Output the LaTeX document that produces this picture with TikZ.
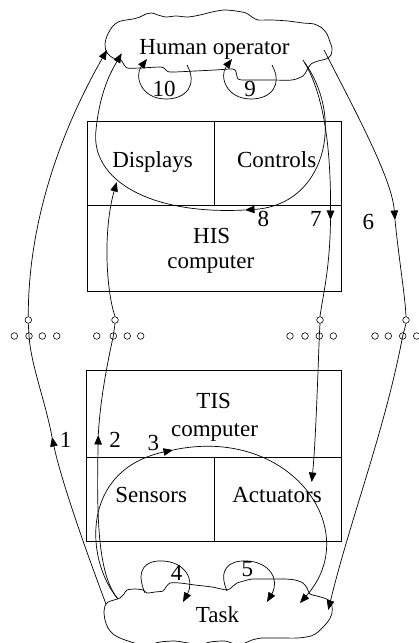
\documentclass[tikz,border=0pt]{standalone}
\usepackage{fontspec}
\setmainfont{Liberation Serif}
\usetikzlibrary{arrows.meta}
\begin{document}
\begin{tikzpicture}[x=1pt,y=-1pt, line width=0.7pt,
  lbl/.style={font=\fontsize{23}{27}\selectfont, anchor=base, inner sep=0pt},
  arr/.style={-{Triangle[length=9.5pt,width=7.5pt]}},
  sw/.style={circle, draw, inner sep=0pt, minimum size=6.6pt, line width=0.6pt},
  swu/.style={sw, fill=white},
  box/.style={draw, inner sep=0pt}]
\useasboundingbox (0,0) rectangle (419,643);
\clip (0,0) rectangle (419,643);

% clouds
\draw plot[smooth cycle, tension=0.45] coordinates {
(106,51) (105,44) (107,36) (112,27) (118,22) (126,20) (133,19) (140,17) (146,14) (152,13)
(158,15) (166,17) (176,16) (188,17) (200,15) (212,12) (224,10) (236,11) (246,13) (252,17)
(258,20) (272,20) (288,21) (303,23) (314,24) (322,28) (327,34) (330,42) (332,48) (331,55)
(326,59) (318,61) (311,64) (307,70) (303,76) (292,80) (270,80) (245,80) (238,79) (236,72)
(233,69) (215,70) (195,71) (170,72) (165,69) (161,67) (140,68) (127,68) (123,63) (120,59)
(113,58) (108,54)};
\draw plot[smooth cycle, tension=0.45] coordinates {
(105,606) (108,602) (114,600) (120,598) (124,594) (127,590) (135,589) (143,590) (147,593)
(155,592) (163,591) (166,587) (170,583) (180,583) (195,585) (212,587) (227,590) (232,587)
(237,583) (244,581) (252,579) (268,579) (285,579) (295,580) (303,583) (307,588) (310,594)
(317,596) (324,598) (330,601) (332,606) (332,613) (329,620) (325,625) (318,632) (311,636)
(298,638) (280,638) (262,638) (252,640) (245,643) (235,644) (225,641) (210,642) (200,645)
(188,643) (175,641) (160,642) (148,645) (138,644) (128,641) (120,638) (113,634) (108,628)
(105,620) (104,612)};
\node[lbl] (human) at (214.5,54.5) {Human operator};
\node[lbl] (task) at (217.5,622.7) {Task};

% HIS boxes
\node[box, minimum width=126.7pt, minimum height=84pt] (dispbox) at (150.65,163) {};
\node[box, minimum width=127.7pt, minimum height=84pt] (contbox) at (277.85,163) {};
\node[box, minimum width=254.4pt, minimum height=86.7pt] (hisbox) at (214.5,248.35) {};
\node[lbl] (displays) at (152.5,167.7) {Displays};
\node[lbl] (controls) at (276.7,167.7) {Controls};
\node[lbl] (his) at (211.7,243.3) {HIS};
\node[lbl] (hiscomp) at (210.8,268.3) {computer};

% TIS boxes
\node[box, minimum width=255pt, minimum height=87.7pt] (tisbox) at (214.2,413.85) {};
\node[box, minimum width=127.3pt, minimum height=84pt] (sensbox) at (150.35,499.7) {};
\node[box, minimum width=127.7pt, minimum height=84pt] (actbox) at (277.85,499.7) {};
\node[lbl] (tis) at (213.7,408.3) {TIS};
\node[lbl] (tiscomp) at (214.5,436) {computer};
\node[lbl] (sensors) at (151.2,502.7) {Sensors};
\node[lbl] (actuators) at (277,502.7) {Actuators};

% switches
\node[swu] (s1u) at (28.3,320) {};
\node[sw] (s1a) at (14.3,336) {};
\node[sw] (s1c) at (29,336) {};
\node[sw] (s1b) at (42.3,336) {};
\node[sw] (s1d) at (56.7,336) {};
\node[swu] (s2u) at (115,320) {};
\node[sw] (s2a) at (96.7,336) {};
\node[sw] (s2c) at (113.3,336) {};
\node[sw] (s2b) at (127.3,336) {};
\node[sw] (s2d) at (140.7,336) {};
\node[swu] (s3u) at (320,320) {};
\node[sw] (s3a) at (290,336) {};
\node[sw] (s3b) at (305,336) {};
\node[sw] (s3c) at (319.3,336) {};
\node[sw] (s3d) at (333.3,336) {};
\node[swu] (s4u) at (406,320) {};
\node[sw] (s4a) at (375,336) {};
\node[sw] (s4b) at (388.3,336) {};
\node[sw] (s4c) at (402.7,336) {};
\node[sw] (s4d) at (416.7,336) {};

% connector end points
\coordinate (t1) at (106,604);
\coordinate (m1) at (52,437);
\coordinate (h1) at (107,50);
\coordinate (t2) at (118,599);
\coordinate (m2) at (98.3,435);
\coordinate (d2) at (116.7,182);
\coordinate (m3) at (173,450);
\coordinate (t3) at (300,603);
\coordinate (t4s) at (145,593);
\coordinate (t4e) at (183,602);
\coordinate (t5s) at (227,591);
\coordinate (t5e) at (267,602);
\coordinate (h6) at (324,50);
\coordinate (m6) at (395,220);
\coordinate (t6) at (328.3,610);
\coordinate (h7) at (303,60);
\coordinate (m7) at (330.5,220);
\coordinate (a7) at (311.7,482);
\coordinate (h8s) at (305,63);
\coordinate (m8) at (245,210);
\coordinate (h8) at (121.7,53.3);
\coordinate (h9s) at (272,65);
\coordinate (h9e) at (232,59);
\coordinate (h10s) at (187,65);
\coordinate (h10e) at (147,59);

% 1
\draw[arr] (t1) .. controls (80,535) and (60,475) .. (m1);
\draw (m1) .. controls (45,400) and (31,365) .. (s1c.center) -- (s1u.south);
\draw[arr] (s1u.north) .. controls (28,240) and (50,150) .. (h1);
% 2
\draw[arr] (t2) .. controls (98,575) and (96.5,520) .. (m2);
\draw (m2) .. controls (100,400) and (108,360) .. (s2c.center) -- (s2u.south);
\draw[arr] (s2u.north) .. controls (106,290) and (103,230) .. (d2);
% 3
\draw[arr] (t2) .. controls (85,560) and (80,470) .. (m3);
\draw[arr] (m3) .. controls (290,425) and (365,530) .. (t3);
% 4, 5
\draw[arr] (t4s) .. controls (135,570) and (145,560) .. (163,561) .. controls (185,562) and (195,580) .. (t4e);
\draw[arr] (t5s) .. controls (218,570) and (228,560) .. (247,561) .. controls (270,562) and (280,580) .. (t5e);
% 6
\draw[arr] (h6) .. controls (360,120) and (392,180) .. (m6);
\draw (m6) .. controls (399,260) and (405,295) .. (s4u.north);
\draw (s4u.south) -- (s4c.center);
\draw[arr] (s4c.center) .. controls (385,430) and (350,520) .. (t6);
% 7
\draw[arr] (h7) .. controls (322,90) and (331,140) .. (m7);
\draw (m7) .. controls (330,270) and (322,300) .. (s3u.north);
\draw (s3u.south) -- (s3c.center);
\draw[arr] (s3c.center) .. controls (317,400) and (315,450) .. (a7);
% 8
\draw[arr] (h8s) .. controls (345,120) and (325,205) .. (m8);
\draw[arr] (m8) .. controls (150,215) and (90,180) .. (96,130) .. controls (100,90) and (112,70) .. (h8);
% 9, 10
\draw[arr] (h9s) .. controls (283,85) and (271,99) .. (251,99) .. controls (226,99) and (219,76) .. (h9e);
\draw[arr] (h10s) .. controls (198,85) and (186,99) .. (166,99) .. controls (141,99) and (134,76) .. (h10e);

% labels
\node[lbl] (n1) at (65.5,447.3) {1};
\node[lbl] (n2) at (115,447.3) {2};
\node[lbl] (n3) at (153.3,450.7) {3};
\node[lbl] (n4) at (176.7,580) {4};
\node[lbl] (n5) at (247.3,576.7) {5};
\node[lbl] (n6) at (368.3,229) {6};
\node[lbl] (n7) at (315.8,226.7) {7};
\node[lbl] (n8) at (263.3,226.7) {8};
\node[lbl] (n9) at (250,96.7) {9};
\node[lbl] (n10) at (164,96.7) {10};
\end{tikzpicture}
\end{document}
